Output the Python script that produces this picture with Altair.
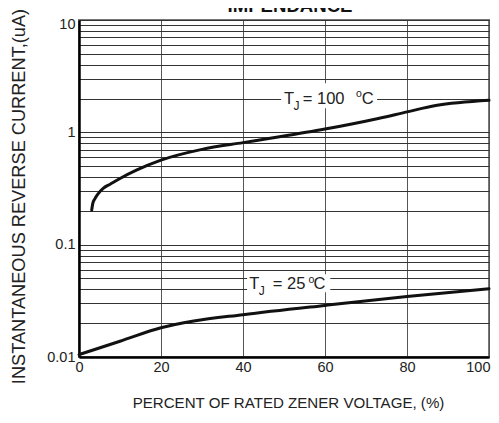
import altair as alt
import pandas as pd

TITLE = "IMPENDANCE"
X_TITLE = "PERCENT OF RATED ZENER VOLTAGE, (%)"
Y_TITLE = "INSTANTANEOUS REVERSE CURRENT,(uA)"

# T_J = 100 °C curve
pct_100 = [3.1, 3.35, 3.9, 4.7, 5.9, 7.6, 10, 14, 20, 30, 40, 47, 60, 73, 80, 87, 100]
cur_100 = [0.203, 0.232, 0.257, 0.285, 0.317, 0.345, 0.388, 0.46, 0.565, 0.705, 0.81, 0.89,
           1.07, 1.33, 1.52, 1.73, 1.93]

# T_J = 25 °C curve
pct_25 = [0, 10, 20, 28, 40, 60, 80, 100]
cur_25 = [0.0105, 0.0138, 0.0182, 0.0209, 0.0238, 0.0288, 0.0345, 0.0405]

x_ticks = [0, 20, 40, 60, 80, 100]
y_major = [0.01, 0.1, 1, 10]
y_grid = [m * d for d in [0.01, 0.1, 1] for m in range(1, 10)] + [10]

# annotation labels: anchor (pct, current) and white box extents
lab_temp = ["100", "25"]
lab_x = [50, 41.5]
lab_y = [2.0, 0.045]
box_x1 = [49.3, 41.0]
box_x2 = [72.7, 61.3]
box_y1 = [1.64, 0.0377]
box_y2 = [2.74, 0.0545]

SANS = "Liberation Sans, Arial, Helvetica"

xs = alt.Scale(domain=[0, 100], nice=False, zero=False)
ys = alt.Scale(type="log", domain=[0.01, 10], nice=False)

major_expr = " || ".join(f"datum.value == {v}" for v in y_major)

x_axis = alt.Axis(
    values=x_ticks, grid=True, gridColor="#555", gridWidth=1,
    domain=True, domainColor="#000", domainWidth=2.5, ticks=False,
    labelFont=SANS, labelFontSize=14.5, labelColor="#222", labelPadding=3,
    labelFlush=False, labelOverlap=False,
    labelAlign=alt.condition("datum.value == 100", alt.value("right"), alt.value("center")),
    labelOffset=alt.condition("datum.value == 100", alt.value(1), alt.value(0)),
    title=X_TITLE, titleFont=SANS, titleFontSize=15.1, titleFontWeight="normal",
    titleColor="#222", titleX=209, titleY=50, titleBaseline="alphabetic", titleAlign="center",
)
y_axis = alt.Axis(
    values=y_grid, grid=True, gridColor="#333", gridWidth=1,
    domain=True, domainColor="#000", domainWidth=2.5, ticks=False,
    labelExpr=f"({major_expr}) ? datum.value + '' : ''",
    labelFont=SANS, labelFontSize=14.5, labelColor="#222", labelPadding=4,
    labelFlush=False, labelOverlap=False,
    labelOffset=alt.condition("datum.value == 10", alt.value(4), alt.value(0)),
    title=Y_TITLE, titleFont=SANS, titleFontSize=18.2, titleFontWeight="normal",
    titleColor="#222", titleX=-60, titleY=176, titleAngle=270,
    titleBaseline="middle", titleAlign="center",
)


def X(field):
    return alt.X(field, scale=xs, axis=x_axis, title=X_TITLE)


def Y(field):
    return alt.Y(field, scale=ys, axis=y_axis, title=Y_TITLE)


curves = pd.DataFrame({
    "x": pct_100 + pct_25,
    "y": cur_100 + cur_25,
    "s": ["100"] * len(pct_100) + ["25"] * len(pct_25),
})

line = alt.Chart(curves).mark_line(
    color="#111", strokeWidth=3, interpolate="monotone", strokeCap="round"
).encode(x=X("x:Q"), y=Y("y:Q"), detail="s:N")

boxes = alt.Chart(pd.DataFrame({
    "x": box_x1, "x2": box_x2, "y": box_y1, "y2": box_y2,
})).mark_rect(fill="white").encode(
    x=X("x:Q"), x2="x2:Q", y=Y("y:Q"), y2="y2:Q",
)

# pieces of "T_J = NNN °C": (text, dx, dy, size) per label
pieces = {
    "100": [("T", 0, 5.5, 16.5), ("J", 9.5, 11, 12), ("= 100", 18.8, 5.5, 16.5),
            ("o", 72, -1.5, 10.5), ("C", 77.8, 5.5, 16.5)],
    "25": [("T", 0, 5.5, 16.5), ("J", 9.5, 11, 12), ("= 25", 23.7, 5.5, 16.5),
           ("o", 59.3, -1, 10.5), ("C", 64.3, 5.5, 16.5)],
}

text_layers = []
for t, lx, ly in zip(lab_temp, lab_x, lab_y):
    for txt, dx, dy, size in pieces[t]:
        text_layers.append(
            alt.Chart(pd.DataFrame({"x": [lx], "y": [ly], "t": [txt]})).mark_text(
                align="left", baseline="alphabetic", dx=dx, dy=dy,
                fontSize=size, font=SANS, color="#222",
            ).encode(x=X("x:Q"), y=Y("y:Q"), text="t:N")
        )

title = alt.Chart(pd.DataFrame({"t": [TITLE]})).mark_text(
    align="center", baseline="alphabetic", fontSize=18.6, fontWeight="bold",
    font=SANS, color="#111",
).encode(x=alt.value(211), y=alt.value(-8), text="t:N")

chart = alt.layer(line, boxes, *text_layers, title).properties(
    width=410, height=337,
    autosize=alt.AutoSizeParams(type="none"),
    padding={"left": 71, "top": 12, "right": 2, "bottom": 54},
    background="white",
).configure_view(stroke="#777", strokeWidth=2)

chart.save("out.html", embed_options={"renderer": "svg", "actions": False})
